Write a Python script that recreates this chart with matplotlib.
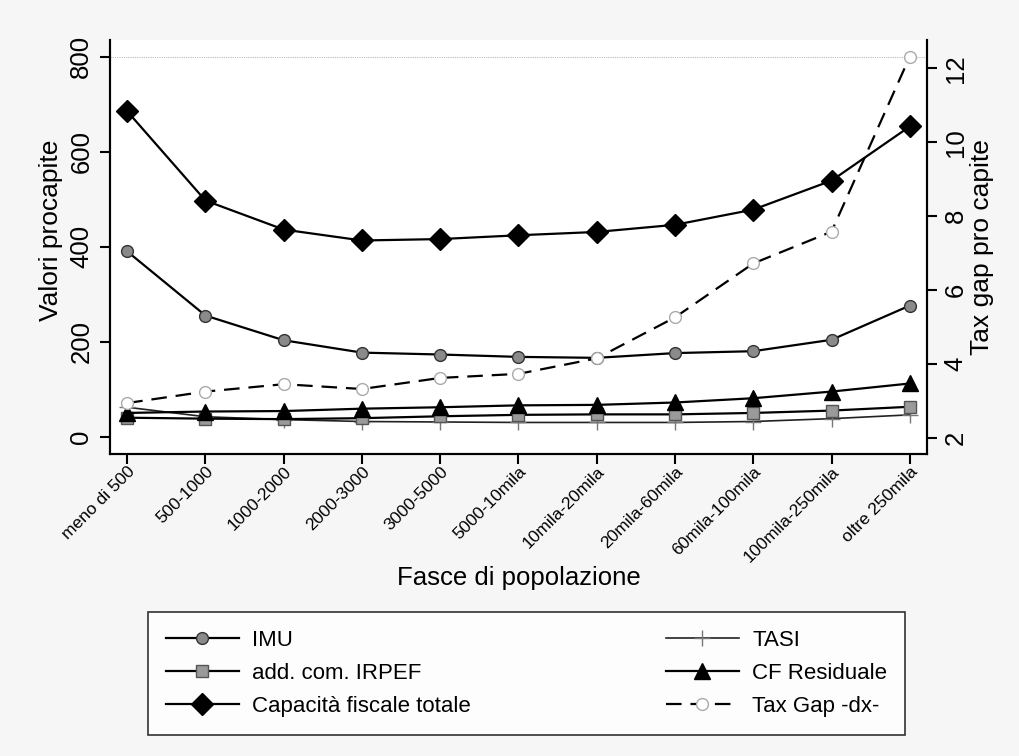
import matplotlib
matplotlib.use("Agg")
import matplotlib.pyplot as plt

plt.rcParams['font.family'] = ['Liberation Sans', 'DejaVu Sans']

categories = ["meno di 500", "500-1000", "1000-2000", "2000-3000", "3000-5000",
              "5000-10mila", "10mila-20mila", "20mila-60mila", "60mila-100mila",
              "100mila-250mila", "oltre 250mila"]
imu = [390, 255, 203, 177, 173, 168, 166, 176, 180, 204, 276]
tasi = [62, 42, 36, 32, 31, 30, 30, 30, 32, 38, 46]
irpef = [40, 38, 37, 39, 43, 46, 47, 47, 50, 55, 63]
cf_residuale = [50, 53, 54, 59, 62, 66, 67, 72, 81, 95, 112]
capacita = [685, 497, 436, 413, 416, 424, 431, 446, 478, 539, 653]
tax_gap = [2.94, 3.25, 3.45, 3.32, 3.62, 3.73, 4.15, 5.26, 6.72, 7.58, 12.32]

left_ticks = [0, 200, 400, 600, 800]
right_ticks = [2, 4, 6, 8, 10, 12]

W, H = 1019, 756
fig = plt.figure(figsize=(W / 100, H / 100), dpi=100)
fig.patch.set_facecolor('#f6f6f6')
ax = fig.add_axes([110 / W, 1 - 454 / H, 817 / W, 414 / H])
ax.set_facecolor('white')
ax2 = ax.twinx()

x = list(range(len(categories)))
lw = 1.6
ax.plot(x, imu, color='black', lw=lw, marker='o', ms=8.5, mfc='#8a8a8a', mec='#333333', mew=1, label='IMU', zorder=4)
ax.plot(x, tasi, color='#222222', lw=1.2, marker='+', ms=12, mec='#777777', mew=1, label='TASI', zorder=4)
ax.plot(x, irpef, color='black', lw=lw, marker='s', ms=8.5, mfc='#9a9a9a', mec='#555555', mew=1, label='add. com. IRPEF', zorder=4)
ax.plot(x, cf_residuale, color='black', lw=lw, marker='^', ms=11, mfc='black', mec='black', label='CF Residuale', zorder=4)
ax.plot(x, capacita, color='black', lw=lw, marker='D', ms=11, mfc='black', mec='black', label='Capacità fiscale totale', zorder=5)
ax2.plot(x, tax_gap, color='black', lw=lw, ls=(0, (7, 4)), marker='o', ms=8.5, mfc='white', mec='#aaaaaa', mew=1, label='Tax Gap -dx-', zorder=4)

ax.axhline(800, color='#bbbbbb', lw=0.8, ls=(0, (1, 1)), zorder=1)

ax.set_xlim(-0.22, 10.22)
ax.set_ylim(-36.4, 835)
ax2.set_ylim(1.56, 12.77)
ax.set_yticks(left_ticks)
ax2.set_yticks(right_ticks)
ax.set_xticks(x)
ax.set_xticklabels(categories, rotation=45, ha='right', rotation_mode='anchor', fontsize=12.5)

for a in (ax, ax2):
    for s in a.spines.values():
        s.set_linewidth(1.5)
    a.spines['top'].set_visible(False)
ax.tick_params(axis='x', length=7, width=1.5, pad=0)
ax.tick_params(axis='y', length=7, width=1.5, labelsize=18.5, labelrotation=90, pad=5)
ax2.tick_params(axis='y', length=7, width=1.5, labelsize=18.5, labelrotation=90, pad=5)
for lab in ax.get_yticklabels():
    lab.set_va('center')
for lab in ax2.get_yticklabels():
    lab.set_va('center')

ax.set_ylabel('Valori procapite', fontsize=19)
ax.yaxis.set_label_coords((63 - 110) / 817, 0.54)
ax2.set_ylabel('Tax gap pro capite', fontsize=19)
ax2.yaxis.set_label_coords((970 - 110) / 817, 0.5)
ax.set_xlabel('Fasce di popolazione', fontsize=18.5)
ax.xaxis.set_label_coords(0.5, -(566 - 454) / 414)

h1, l1 = ax.get_legend_handles_labels()
h2, l2 = ax2.get_legend_handles_labels()
hd = dict(zip(l1 + l2, h1 + h2))
order = ['IMU', 'add. com. IRPEF', 'Capacità fiscale totale', 'TASI', 'CF Residuale', 'Tax Gap -dx-']
leg = fig.legend([hd[k] for k in order], order, ncol=2, loc='upper left',
                 bbox_to_anchor=(148 / W, 1 - 733 / H, 757 / W, 121 / H), mode='expand',
                 fontsize=16, frameon=True, fancybox=False, edgecolor='black',
                 handlelength=3.3, labelspacing=0.55, borderpad=0.8, handletextpad=0.6,
                 borderaxespad=0)
leg.get_frame().set_linewidth(1.2)
leg.get_frame().set_facecolor('white')

fig.savefig('out.png', dpi=100, facecolor=fig.get_facecolor())
